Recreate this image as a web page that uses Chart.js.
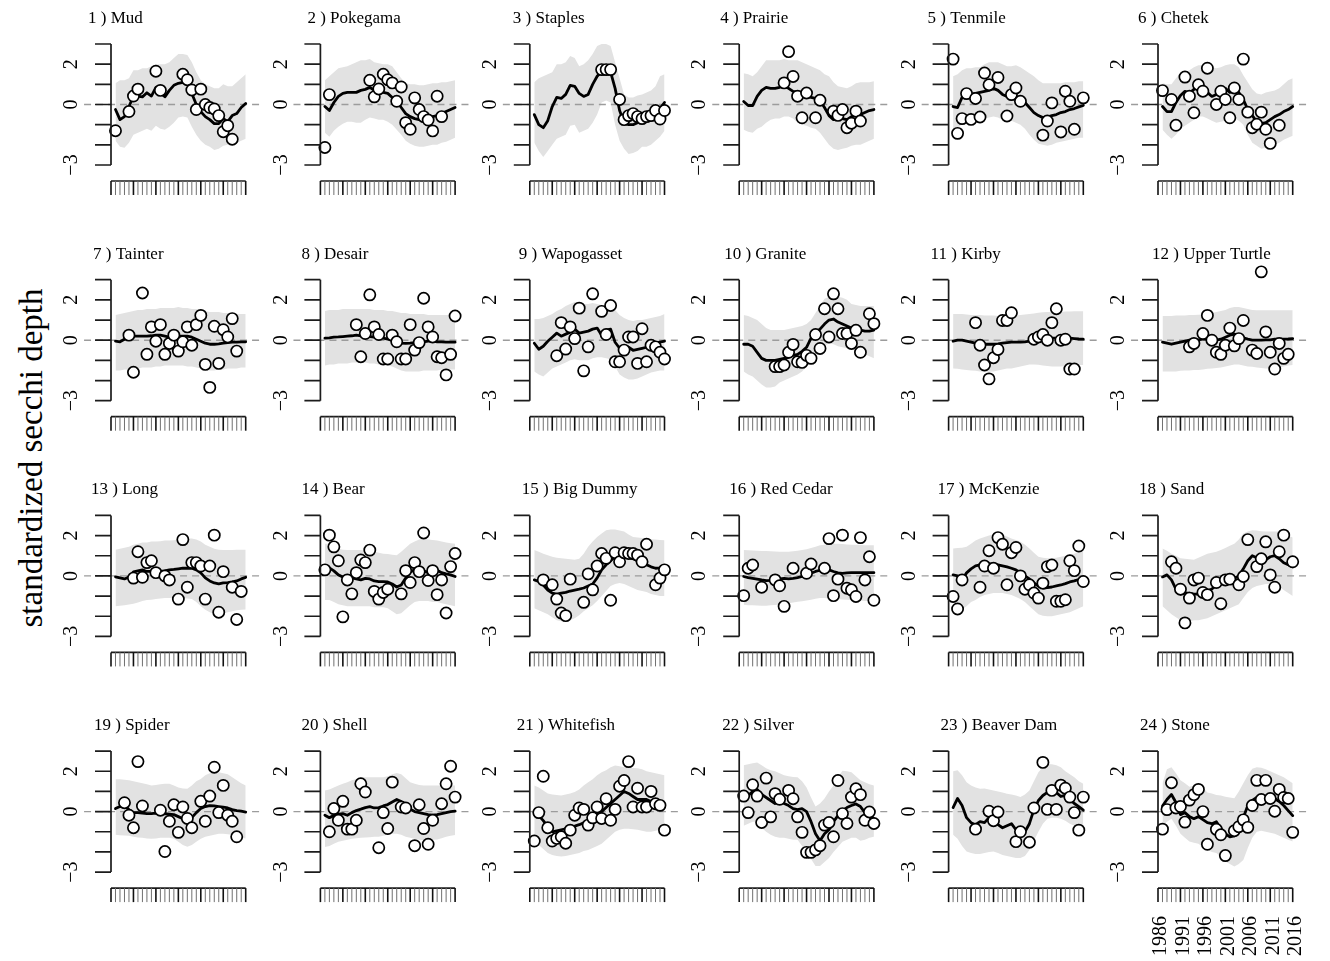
<!DOCTYPE html>
<html><head><meta charset="utf-8">
<script src="https://cdn.jsdelivr.net/npm/chart.js@4/dist/chart.umd.min.js"></script>
<style>
html,body{margin:0;padding:0;background:#fff;}
body{width:1330px;height:961px;overflow:hidden;position:relative;}
canvas{position:absolute;}
#ylab{position:absolute;left:31px;top:458px;transform:translate(-50%,-50%) rotate(-90deg);font:33px "Liberation Serif",serif;white-space:nowrap;color:#000;}
</style></head><body>
<div id="ylab">standardized secchi depth</div>
<script>
// ---------- data ----------
const N = null;
const years = [1987,1988,1989,1990,1991,1992,1993,1994,1995,1996,1997,1998,1999,2000,2001,2002,2003,2004,2005,2006,2007,2008,2009,2010,2011,2012,2013,2014,2015,2016];
const axisYears = [1986,1987,1988,1989,1990,1991,1992,1993,1994,1995,1996,1997,1998,1999,2000,2001,2002,2003,2004,2005,2006,2007,2008,2009,2010,2011,2012,2013,2014,2015,2016];
const xTickLabels = ["1986","1991","1996","2001","2006","2011","2016"];
const yTickValues = [-3,-2,-1,0,1,2,3];
const yTickLabels = ["\u22123","","","0","","2",""];
const lakeNames = ["Mud","Pokegama","Staples","Prairie","Tenmile","Chetek","Tainter","Desair","Wapogasset","Granite","Kirby","Upper Turtle","Long","Bear","Big Dummy","Red Cedar","McKenzie","Sand","Spider","Shell","Whitefish","Silver","Beaver Dam","Stone"];

const obs01=[-1.3,N,N,-0.35,0.42,0.76,N,N,N,1.65,0.7,N,N,N,N,1.5,1.23,0.72,-0.25,0.76,0,-0.15,-0.22,-0.55,-1.35,-1.05,-1.72,N,N,N];
const fit01=[-0.25,-0.75,-0.6,-0.1,0.4,0.42,0.38,0.58,0.42,0.85,0.6,0.38,0.7,0.95,1.05,1.1,1.1,0.55,0.0,-0.35,-0.6,-0.75,-0.95,-0.95,-0.7,-0.85,-0.55,-0.45,-0.15,0.05];
const hi01=[1.05,1.2,1.2,1.3,1.7,1.7,1.8,1.8,1.9,2.0,2.0,2.0,2.1,2.3,2.5,2.5,2.45,2.1,1.6,1.2,1.0,0.9,0.8,0.8,1.0,0.9,0.9,1.1,1.3,1.5];
const lo01=[-1.8,-2.1,-2.15,-1.9,-1.5,-1.4,-1.3,-1.2,-1.3,-1.05,-1.2,-1.25,-1.1,-0.9,-0.65,-0.6,-0.65,-1.1,-1.5,-1.8,-2.0,-2.1,-2.25,-2.2,-2.05,-2.0,-1.95,-1.9,-1.8,-1.7];

const obs02=[-2.13,0.49,N,N,N,N,N,N,N,N,1.2,0.38,0.77,1.5,1.23,1.07,0.16,0.87,-0.9,-1.23,0.33,-0.25,-0.6,-0.77,-1.31,0.41,-0.6,N,N,N];
const fit02=[-0.1,-0.3,0.1,0.4,0.55,0.6,0.6,0.6,0.7,0.75,0.85,0.7,0.6,0.6,0.55,0.35,0.2,-0.15,-0.45,-0.6,-0.7,-0.75,-0.7,-0.75,-0.6,-0.55,-0.45,-0.35,-0.25,-0.15];
const hi02=[1.2,1.4,1.6,1.8,1.85,1.9,2.0,2.1,2.2,2.2,2.25,2.1,2.05,2.0,2.0,1.9,1.6,1.3,1.05,1.0,1.0,0.95,0.95,1.0,1.05,1.05,1.1,1.1,1.15,1.2];
const lo02=[-1.4,-1.6,-1.3,-1.1,-0.95,-0.85,-0.85,-0.9,-0.9,-0.75,-0.65,-0.7,-0.75,-0.75,-0.85,-1.0,-1.25,-1.5,-1.8,-1.95,-2.05,-2.1,-2.1,-2.05,-2.0,-2.0,-1.9,-1.85,-1.75,-1.65];

const obs03=[N,N,N,N,N,N,N,N,N,N,N,N,N,N,N,1.73,1.73,1.73,N,0.25,-0.75,-0.55,-0.45,-0.6,-0.7,-0.6,-0.55,-0.3,-0.72,-0.3];
const fit03=[-0.5,-1.0,-1.15,-0.8,-0.1,0.35,0.3,0.5,0.95,0.9,0.55,0.4,0.5,1.0,1.4,1.65,1.7,1.6,0.8,-0.3,-0.9,-1.0,-1.0,-0.9,-0.75,-0.7,-0.55,-0.4,-0.2,0.1];
const hi03=[1.1,1.3,1.4,1.5,1.6,2.0,2.0,2.1,2.4,2.3,1.9,2.0,2.2,2.5,2.9,3.0,3.0,2.9,2.1,1.3,0.5,0.35,0.35,0.45,0.5,0.6,0.7,0.9,1.4,1.5];
const lo03=[-1.9,-2.3,-2.6,-2.3,-2.0,-1.7,-1.6,-1.5,-1.05,-1.0,-1.4,-1.3,-1.2,-0.9,-0.5,0.1,0.2,0.1,-1.0,-1.8,-2.2,-2.45,-2.4,-2.3,-2.1,-2.1,-2.0,-1.8,-1.6,-1.3];

const obs04=[N,N,N,N,N,N,N,N,N,1.07,2.62,1.39,0.41,-0.66,0.57,N,-0.66,0.21,N,N,-0.33,-0.54,-0.25,-1.15,-0.93,-0.33,-0.82,N,N,N];
const fit04=[0.15,-0.05,-0.05,0.4,0.7,0.85,0.8,0.8,0.85,1.0,0.8,0.65,0.6,0.5,0.4,0.35,0.3,0.2,-0.15,-0.55,-0.75,-0.7,-0.7,-0.75,-0.6,-0.55,-0.5,-0.4,-0.3,-0.25];
const hi04=[1.55,1.5,1.4,1.6,1.9,2.2,2.2,2.2,2.2,2.25,2.2,2.2,2.2,2.1,2.0,1.9,1.8,1.7,1.5,1.4,1.1,0.9,0.85,0.8,0.9,1.05,1.1,1.1,1.1,1.15];
const lo04=[-1.25,-1.35,-1.4,-1.2,-1.1,-0.9,-0.75,-0.7,-0.7,-0.6,-0.6,-0.7,-0.9,-1.0,-1.05,-1.15,-1.2,-1.4,-1.7,-2.0,-2.2,-2.25,-2.2,-2.15,-2.05,-2.0,-2.0,-1.9,-1.8,-1.7];

const obs05=[2.25,-1.43,-0.7,0.54,-0.74,0.3,-0.62,1.56,0.98,N,1.34,N,-0.57,0.49,0.82,0.16,N,N,N,N,-1.52,-0.82,0.08,N,-1.36,0.66,0.16,-1.23,N,0.33];
const fit05=[-0.1,-0.15,0.35,0.45,0.5,0.55,0.6,0.65,0.7,0.8,0.7,0.5,0.4,0.5,0.4,0.25,0.1,-0.15,-0.4,-0.55,-0.65,-0.62,-0.55,-0.5,-0.4,-0.35,-0.25,-0.2,-0.12,-0.05];
const hi05=[1.4,1.5,1.7,1.8,1.8,1.85,1.85,2.0,2.1,2.1,2.1,2.0,1.9,1.9,1.95,1.85,1.7,1.55,1.4,1.2,1.05,1.05,1.05,1.05,1.05,1.1,1.1,1.1,1.15,1.15];
const lo05=[-1.4,-1.2,-0.95,-0.85,-0.8,-0.75,-0.7,-0.7,-0.65,-0.6,-0.65,-0.75,-0.8,-0.8,-0.9,-1.0,-1.2,-1.5,-1.75,-1.95,-2.0,-2.05,-2.0,-1.9,-1.85,-1.8,-1.75,-1.7,-1.65,-1.65];

const obs06=[0.69,N,0.25,-1.03,N,1.36,0.41,-0.41,0.98,0.66,1.8,N,0.0,0.66,0.25,-0.66,0.82,0.25,2.25,-0.38,-1.15,-0.98,-0.38,-1.23,-1.93,N,-1.03,N,N,N];
const fit06=[-0.1,-0.35,-0.35,0.1,0.45,0.65,0.55,0.75,1.0,0.75,0.6,0.4,0.5,0.65,0.8,0.6,0.7,0.6,0.25,-0.25,-0.55,-0.85,-0.95,-0.9,-0.75,-0.6,-0.5,-0.35,-0.25,-0.1];
const hi06=[1.05,1.0,1.0,1.3,1.55,1.6,1.7,1.85,1.95,1.95,1.9,1.85,1.8,1.85,1.95,2.0,2.0,1.85,1.45,1.1,0.75,0.55,0.5,0.6,0.65,0.7,0.8,1.0,1.2,1.3];
const lo06=[-1.25,-1.5,-1.7,-1.5,-1.2,-1.05,-0.9,-0.75,-0.6,-0.6,-0.7,-0.8,-0.9,-0.85,-0.8,-0.75,-0.7,-0.8,-1.0,-1.5,-1.9,-2.05,-2.2,-2.15,-2.1,-2.0,-1.9,-1.75,-1.65,-1.55];

const obs07=[N,N,N,0.25,-1.59,N,2.34,-0.7,0.66,-0.05,0.77,-0.7,-0.16,0.25,-0.54,-0.08,0.66,-0.25,0.77,1.23,-1.2,-2.34,0.69,-1.15,0.52,0.16,1.07,-0.54,N,N];
const fit07=[-0.05,-0.08,0.05,0.15,0.2,0.2,0.2,0.2,0.22,0.25,0.25,0.2,0.15,0.18,0.2,0.2,0.2,0.15,0.05,-0.05,-0.15,-0.2,-0.2,-0.18,-0.15,-0.12,-0.1,-0.1,-0.08,-0.08];
const hi07=[1.25,1.3,1.35,1.4,1.45,1.5,1.5,1.55,1.55,1.55,1.6,1.6,1.6,1.6,1.65,1.6,1.6,1.55,1.55,1.5,1.45,1.4,1.4,1.4,1.35,1.35,1.35,1.3,1.3,1.3];
const lo07=[-1.5,-1.5,-1.45,-1.45,-1.4,-1.4,-1.35,-1.35,-1.35,-1.3,-1.3,-1.25,-1.25,-1.25,-1.25,-1.25,-1.3,-1.3,-1.35,-1.4,-1.45,-1.5,-1.5,-1.45,-1.45,-1.4,-1.4,-1.4,-1.35,-1.35];

const obs08=[N,N,N,N,N,N,N,0.77,-0.82,0.33,2.25,0.66,0.28,-0.93,-0.93,0.25,-0.08,-0.93,-0.93,0.77,-0.49,-0.12,2.08,0.66,0.16,-0.82,-0.87,-1.72,-0.7,1.2];
const fit08=[0.1,0.12,0.15,0.16,0.18,0.2,0.22,0.25,0.22,0.2,0.18,0.15,0.12,0.1,0.05,0.0,-0.1,-0.15,-0.16,-0.15,-0.12,-0.1,-0.08,-0.05,-0.05,-0.08,-0.08,-0.1,-0.1,-0.1];
const hi08=[1.45,1.5,1.5,1.5,1.55,1.55,1.55,1.55,1.55,1.55,1.55,1.5,1.5,1.5,1.45,1.45,1.4,1.35,1.35,1.3,1.3,1.3,1.3,1.25,1.25,1.25,1.25,1.25,1.25,1.25];
const lo08=[-1.25,-1.2,-1.2,-1.15,-1.15,-1.15,-1.1,-1.1,-1.1,-1.1,-1.15,-1.15,-1.2,-1.2,-1.25,-1.3,-1.4,-1.5,-1.55,-1.55,-1.55,-1.55,-1.5,-1.5,-1.5,-1.5,-1.45,-1.45,-1.45,-1.45];

const obs09=[N,N,N,N,N,-0.77,0.87,-0.44,0.66,0.08,1.59,-1.52,-0.33,2.3,N,1.43,0.28,1.72,-1.07,-1.07,-0.49,0.16,0.16,-1.15,0.57,-1.07,-0.25,-0.33,-0.6,-0.93];
const fit09=[-0.15,-0.45,-0.3,-0.05,0.15,0.35,0.2,0.3,0.4,0.55,0.35,0.4,0.45,0.55,0.6,0.25,0.5,0.55,-0.1,-0.4,-0.35,-0.35,-0.5,-0.45,-0.4,-0.35,-0.2,-0.15,-0.1,-0.05];
const hi09=[1.05,1.05,1.1,1.2,1.3,1.45,1.55,1.7,1.8,1.9,1.85,1.8,1.8,1.85,1.8,1.75,1.75,1.7,1.5,1.25,1.1,1.0,0.95,1.0,1.0,1.05,1.1,1.15,1.2,1.3];
const lo09=[-1.55,-1.7,-1.8,-1.6,-1.4,-1.3,-1.2,-1.1,-1.0,-0.95,-1.0,-1.0,-1.0,-0.9,-0.85,-0.85,-0.9,-0.95,-1.3,-1.7,-1.85,-1.95,-1.95,-1.9,-1.8,-1.7,-1.6,-1.55,-1.5,-1.5];

const obs10=[N,N,N,N,N,N,N,-1.31,-1.31,-1.23,-0.6,-0.21,-1.07,-1.1,-0.75,-0.9,0.28,-0.41,1.56,0.16,2.3,1.56,0.33,0.33,-0.16,0.49,-0.6,N,1.31,0.82];
const fit10=[-0.2,-0.2,-0.3,-0.6,-0.9,-1.0,-1.0,-1.0,-0.95,-0.9,-0.85,-0.75,-0.7,-0.55,-0.35,0.1,0.35,0.55,0.8,1.0,1.05,0.9,0.8,0.7,0.6,0.5,0.5,0.45,0.45,0.5];
const hi10=[1.25,1.2,1.1,1.0,0.8,0.6,0.5,0.5,0.5,0.5,0.55,0.6,0.65,0.7,0.8,1.0,1.35,1.7,2.05,2.15,2.2,2.15,2.1,2.0,1.8,1.75,1.7,1.7,1.7,1.7];
const lo10=[-1.55,-1.7,-1.8,-2.0,-2.2,-2.35,-2.35,-2.3,-2.1,-2.0,-1.9,-1.8,-1.7,-1.55,-1.3,-1.0,-0.75,-0.5,-0.3,-0.15,-0.2,-0.3,-0.35,-0.4,-0.45,-0.5,-0.6,-0.7,-0.8,-0.9];

const obs11=[N,N,N,N,N,0.87,-0.25,-1.23,-1.92,-0.87,-0.46,0.98,0.98,1.36,N,N,N,N,0.05,0.16,0.28,0.0,0.87,1.56,0.0,0.05,-1.43,-1.43,N,N];
const fit11=[-0.05,0.0,0.0,-0.05,-0.1,-0.15,-0.18,-0.2,-0.2,-0.2,-0.18,-0.15,-0.12,-0.1,-0.1,-0.1,-0.08,-0.05,0.05,0.1,0.15,0.15,0.12,0.1,0.1,0.1,0.1,0.08,0.06,0.05];
const hi11=[1.3,1.3,1.3,1.28,1.25,1.25,1.25,1.23,1.23,1.22,1.2,1.2,1.2,1.2,1.22,1.25,1.28,1.3,1.33,1.36,1.38,1.4,1.4,1.4,1.4,1.42,1.42,1.43,1.43,1.43];
const lo11=[-1.4,-1.42,-1.45,-1.48,-1.5,-1.52,-1.55,-1.56,-1.56,-1.55,-1.5,-1.45,-1.4,-1.4,-1.35,-1.3,-1.25,-1.2,-1.2,-1.22,-1.25,-1.28,-1.3,-1.3,-1.3,-1.28,-1.25,-1.25,-1.23,-1.23];

const obs12=[N,N,N,N,N,N,-0.33,-0.16,N,0.33,1.23,0.0,-0.6,-0.7,-0.25,0.6,-0.28,0.08,0.98,N,-0.49,-0.66,3.39,0.41,-0.6,-1.43,-0.16,-0.9,-0.7,N];
const fit12=[-0.1,-0.15,-0.2,-0.15,-0.1,-0.05,0.0,0.0,0.02,0.05,0.05,0.02,0.0,0.05,0.15,0.25,0.3,0.25,0.12,0.05,0.0,0.0,0.0,0.02,0.02,0.05,0.05,0.05,0.06,0.08];
const hi12=[1.2,1.2,1.2,1.22,1.22,1.23,1.25,1.25,1.26,1.28,1.3,1.35,1.4,1.45,1.5,1.6,1.65,1.65,1.6,1.55,1.5,1.48,1.48,1.48,1.48,1.48,1.48,1.48,1.48,1.48];
const lo12=[-1.55,-1.55,-1.55,-1.55,-1.52,-1.5,-1.5,-1.48,-1.48,-1.45,-1.42,-1.4,-1.38,-1.35,-1.3,-1.25,-1.2,-1.2,-1.25,-1.3,-1.32,-1.35,-1.38,-1.4,-1.4,-1.38,-1.35,-1.3,-1.25,-1.23];

const obs13=[N,N,N,N,-0.11,1.2,-0.07,0.66,0.75,0.16,N,0.0,-0.2,N,-1.15,1.8,-0.56,0.66,0.66,0.49,-1.15,0.49,2.02,-1.8,0.21,N,-0.56,-2.16,-0.77,N];
const fit13=[-0.05,-0.1,-0.15,-0.05,0.2,0.25,0.3,0.22,0.22,0.25,0.22,0.25,0.3,0.32,0.35,0.38,0.38,0.38,0.3,0.15,-0.1,-0.25,-0.35,-0.4,-0.35,-0.33,-0.3,-0.25,-0.15,-0.07];
const hi13=[1.3,1.35,1.4,1.45,1.55,1.6,1.65,1.65,1.7,1.7,1.72,1.75,1.75,1.77,1.8,1.82,1.85,1.85,1.8,1.7,1.55,1.45,1.35,1.3,1.28,1.28,1.28,1.3,1.3,1.3];
const lo13=[-1.5,-1.48,-1.45,-1.42,-1.38,-1.32,-1.25,-1.2,-1.18,-1.15,-1.12,-1.1,-1.1,-1.1,-1.1,-1.1,-1.12,-1.15,-1.3,-1.5,-1.68,-1.8,-1.9,-1.9,-1.85,-1.8,-1.75,-1.7,-1.68,-1.67];

const obs14=[0.3,2.02,1.44,0.75,-2.03,-0.2,-0.89,0.16,0.79,0.66,1.28,-0.77,-1.15,-0.82,-0.66,N,N,-0.89,0.26,-0.33,0.66,0.21,2.13,-0.23,0.26,-0.93,-0.2,-1.84,0.46,1.11];
const fit14=[0.2,0.4,0.25,0.05,-0.05,-0.15,-0.1,-0.15,-0.2,-0.12,-0.15,-0.25,-0.28,-0.28,-0.3,-0.4,-0.55,-0.45,-0.1,0.2,0.3,0.28,0.25,0.16,0.25,0.28,0.16,0.1,0.05,-0.03];
const hi14=[1.6,1.6,1.5,1.35,1.3,1.28,1.28,1.28,1.28,1.25,1.22,1.2,1.15,1.1,1.08,1.05,1.03,1.2,1.4,1.6,1.7,1.8,1.85,1.8,1.78,1.75,1.7,1.65,1.62,1.6];
const lo14=[-1.2,-1.2,-1.3,-1.4,-1.45,-1.5,-1.5,-1.5,-1.5,-1.5,-1.5,-1.55,-1.55,-1.55,-1.6,-1.75,-1.9,-1.85,-1.65,-1.45,-1.3,-1.25,-1.25,-1.25,-1.3,-1.3,-1.35,-1.4,-1.45,-1.5];

const obs15=[N,N,-0.2,N,-0.44,-1.15,-1.84,-1.97,-0.16,N,N,-1.31,0.1,-0.69,0.49,1.11,0.87,-1.21,1.15,0.7,1.15,1.11,1.11,1.03,0.7,1.57,N,-0.44,-0.11,0.3];
const fit15=[-0.2,-0.28,-0.45,-0.7,-0.85,-0.9,-0.85,-0.82,-0.75,-0.7,-0.66,-0.6,-0.5,-0.4,-0.1,0.3,0.55,0.75,0.95,1.0,1.0,0.9,0.85,0.75,0.65,0.55,0.45,0.38,0.4,0.45];
const hi15=[1.28,1.2,1.1,1.03,0.95,0.9,0.87,0.85,0.82,0.8,0.85,1.1,1.44,1.7,1.93,2.1,2.26,2.3,2.3,2.25,2.2,2.05,1.93,1.9,1.88,1.85,1.82,1.8,1.78,1.77];
const lo15=[-1.6,-1.7,-1.8,-1.9,-2.05,-2.2,-2.25,-2.25,-2.2,-2.1,-1.95,-1.75,-1.6,-1.45,-1.25,-1.0,-0.75,-0.5,-0.4,-0.35,-0.4,-0.5,-0.6,-0.7,-0.75,-0.8,-0.9,-0.95,-1.0,-1.0];

const obs16=[-0.98,0.38,0.54,N,-0.56,N,N,-0.2,-0.49,-1.51,N,0.38,N,N,0.13,0.59,N,N,0.38,1.85,-0.98,-0.16,2.02,-0.61,-0.69,-1.02,1.9,-0.2,0.95,-1.21];
const fit16=[-0.03,-0.08,-0.12,-0.16,-0.2,-0.23,-0.22,-0.2,-0.15,-0.12,-0.15,-0.12,-0.08,-0.03,0.05,0.13,0.22,0.28,0.33,0.3,0.22,0.15,0.13,0.15,0.16,0.16,0.16,0.16,0.16,0.16];
const hi16=[1.28,1.27,1.26,1.25,1.24,1.23,1.22,1.21,1.2,1.2,1.2,1.22,1.25,1.28,1.32,1.38,1.45,1.52,1.55,1.58,1.6,1.6,1.58,1.56,1.55,1.54,1.53,1.52,1.52,1.52];
const lo16=[-1.43,-1.45,-1.46,-1.47,-1.48,-1.48,-1.46,-1.44,-1.42,-1.4,-1.36,-1.32,-1.28,-1.26,-1.22,-1.18,-1.13,-1.1,-1.1,-1.12,-1.14,-1.15,-1.17,-1.18,-1.2,-1.2,-1.22,-1.24,-1.25,-1.26];

const obs17=[-1.02,-1.64,-0.2,N,N,N,-0.56,0.49,1.25,0.38,1.9,1.57,-0.44,1.15,1.41,0.0,-0.66,-0.44,-0.85,-1.1,-0.36,0.46,0.54,-1.26,-1.26,-1.18,0.75,0.26,1.48,-0.28];
const fit17=[0.05,0.0,-0.2,0.15,0.35,0.5,0.55,0.6,0.6,0.58,0.55,0.5,0.45,0.38,0.3,0.16,0.0,-0.15,-0.35,-0.5,-0.6,-0.58,-0.55,-0.5,-0.45,-0.38,-0.3,-0.25,-0.18,-0.1];
const hi17=[1.36,1.38,1.4,1.44,1.6,1.75,1.85,1.93,2.0,2.05,2.1,2.05,1.95,1.85,1.78,1.69,1.55,1.36,1.15,0.95,0.9,0.87,0.87,0.9,0.95,1.0,1.05,1.1,1.2,1.28];
const lo17=[-1.35,-1.5,-1.65,-1.5,-1.3,-1.2,-1.05,-0.95,-0.9,-0.85,-0.85,-0.85,-0.9,-0.95,-1.05,-1.15,-1.3,-1.5,-1.7,-1.9,-1.97,-2.0,-2.0,-1.95,-1.9,-1.85,-1.8,-1.7,-1.6,-1.5];

const obs18=[N,N,0.7,0.38,-0.66,-2.33,-1.1,-0.2,-0.11,-0.82,-0.93,N,-0.33,-1.38,-0.2,-0.16,N,-0.44,-0.03,1.8,N,0.46,0.85,1.69,0.05,-0.56,1.2,2.02,N,0.7];
const fit18=[-0.05,0.05,-0.2,-0.65,-0.9,-0.85,-0.85,-0.9,-0.9,-0.82,-0.75,-0.65,-0.45,-0.38,-0.3,-0.2,-0.12,0.0,0.35,0.75,1.0,0.9,0.78,0.8,0.95,1.0,0.85,0.65,0.55,0.45];
const hi18=[1.36,1.25,1.1,1.0,0.87,0.85,0.82,0.8,0.9,1.0,1.1,1.15,1.2,1.28,1.38,1.5,1.6,1.8,2.1,2.2,2.26,2.25,2.22,2.2,2.2,2.2,2.2,2.1,2.0,1.9];
const lo18=[-1.5,-1.7,-1.9,-2.05,-2.2,-2.25,-2.25,-2.2,-2.2,-2.15,-2.1,-2.0,-1.9,-1.8,-1.7,-1.6,-1.5,-1.4,-1.1,-0.8,-0.6,-0.5,-0.45,-0.4,-0.4,-0.45,-0.55,-0.7,-0.85,-1.0];

const obs19=[N,N,0.44,-0.18,-0.8,2.48,0.28,N,N,N,0.07,-1.98,-0.48,0.34,-1.03,0.23,-0.34,-0.8,N,0.51,-0.48,0.77,2.2,-0.05,1.3,-0.18,-0.48,-1.25,N,N];
const fit19=[0.15,0.25,0.3,0.1,-0.05,-0.05,-0.08,-0.1,-0.1,-0.08,-0.12,-0.1,-0.12,-0.15,-0.25,-0.35,-0.43,-0.3,-0.05,0.15,0.25,0.3,0.28,0.25,0.22,0.18,0.1,0.05,0.02,-0.02];
const hi19=[1.6,1.6,1.58,1.55,1.5,1.45,1.4,1.35,1.3,1.32,1.35,1.38,1.38,1.3,1.2,1.15,1.13,1.3,1.5,1.62,1.8,1.9,1.95,1.95,1.9,1.85,1.7,1.55,1.4,1.3];
const lo19=[-1.15,-1.17,-1.18,-1.2,-1.25,-1.28,-1.3,-1.33,-1.35,-1.33,-1.3,-1.3,-1.3,-1.35,-1.5,-1.65,-1.74,-1.65,-1.5,-1.35,-1.25,-1.2,-1.15,-1.1,-1.1,-1.12,-1.15,-1.2,-1.28,-1.33];

const obs20=[N,-1.0,0.15,-0.43,0.51,-0.87,-0.87,-0.43,1.38,0.97,N,N,-1.79,-0.05,-0.84,1.46,N,0.23,0.18,N,-1.69,0.34,-0.84,-1.62,-0.43,N,0.39,1.38,2.25,0.72];
const fit20=[-0.18,-0.3,-0.2,-0.12,-0.1,-0.18,-0.05,0.05,0.12,0.2,0.25,0.18,0.2,0.28,0.35,0.48,0.6,0.5,0.3,0.12,0.0,-0.05,-0.1,-0.15,-0.18,-0.15,-0.1,-0.05,0.0,0.02];
const hi20=[1.05,1.1,1.2,1.3,1.38,1.45,1.55,1.62,1.7,1.7,1.7,1.7,1.7,1.7,1.75,1.85,1.92,1.85,1.65,1.46,1.38,1.32,1.3,1.3,1.3,1.3,1.3,1.3,1.3,1.3];
const lo20=[-1.75,-1.7,-1.6,-1.5,-1.45,-1.4,-1.35,-1.32,-1.3,-1.28,-1.27,-1.25,-1.25,-1.2,-1.15,-1.1,-1.1,-1.15,-1.25,-1.3,-1.35,-1.4,-1.42,-1.42,-1.4,-1.38,-1.32,-1.25,-1.2,-1.16];

const obs21=[-1.46,-0.05,1.75,-0.8,-1.46,-1.33,-1.25,-1.57,-0.92,-0.18,0.18,0.11,-0.67,-0.31,0.23,-0.34,0.64,-0.43,0.11,1.26,1.54,2.48,0.23,1.16,0.23,0.23,1.0,0.39,0.31,-0.92];
const fit21=[-0.05,-0.2,-0.45,-0.75,-1.0,-0.95,-0.9,-0.85,-0.78,-0.72,-0.65,-0.55,-0.45,-0.3,-0.15,0.0,0.2,0.4,0.6,0.8,1.0,0.9,0.75,0.6,0.6,0.6,0.5,0.4,0.35,0.3];
const hi21=[1.3,1.2,1.05,0.9,0.85,0.82,0.8,0.85,0.9,0.97,1.1,1.3,1.46,1.6,1.8,1.95,2.05,2.2,2.28,2.25,2.2,2.18,2.16,2.15,2.1,2.0,1.95,1.9,1.85,1.8];
const lo21=[-1.45,-1.65,-1.85,-2.05,-2.15,-2.2,-2.23,-2.2,-2.15,-2.1,-2.05,-1.95,-1.9,-1.8,-1.7,-1.6,-1.4,-1.2,-1.0,-0.9,-0.85,-0.85,-0.88,-0.9,-0.95,-1.0,-1.0,-0.95,-0.9,-0.85];

const obs22=[0.77,-0.05,1.33,0.77,-0.54,1.66,-0.26,0.89,0.61,N,1.05,0.64,-0.26,-1.03,-2.02,-2.02,-1.9,-1.69,-0.67,-0.54,-1.25,1.54,-0.1,-0.59,0.72,1.13,0.84,-0.43,-0.02,-0.59];
const fit22=[0.6,0.8,1.0,1.1,0.85,0.7,0.55,0.4,0.5,0.4,0.3,0.15,0.1,0.15,0.0,-0.5,-1.1,-1.45,-1.1,-0.9,-0.5,-0.2,0.05,0.2,0.3,0.38,0.25,-0.05,-0.25,-0.35];
const hi22=[2.3,2.35,2.4,2.44,2.3,2.15,2.05,2.0,1.9,1.8,1.75,1.72,1.7,1.5,1.2,0.7,0.25,0.4,0.65,1.0,1.3,1.7,2.03,2.0,1.95,1.75,1.55,1.45,1.35,1.3];
const lo22=[-0.7,-0.6,-0.5,-0.5,-0.8,-1.0,-1.15,-1.25,-1.3,-1.3,-1.35,-1.4,-1.4,-1.7,-2.0,-2.35,-2.7,-2.7,-2.5,-2.3,-2.0,-1.75,-1.5,-1.4,-1.3,-1.3,-1.45,-1.4,-1.3,-1.25];

const obs23=[N,N,N,N,N,-0.87,N,N,0.02,-0.45,-0.02,N,N,N,-1.49,-1.0,N,-1.52,0.18,N,2.44,0.11,1.05,0.11,1.31,1.16,0.72,-0.05,-0.92,0.72];
const fit23=[0.2,0.65,0.3,-0.3,-0.55,-0.65,-0.5,-0.55,-0.3,-0.5,-0.65,-0.8,-0.7,-0.6,-0.9,-1.0,-1.0,-0.6,0.1,0.55,0.8,0.95,1.05,0.95,0.75,0.8,0.6,0.4,0.25,0.07];
const hi23=[2.0,2.05,1.8,1.45,1.3,1.2,1.13,1.15,1.1,1.05,1.0,0.95,0.89,0.85,0.8,0.72,0.85,1.05,1.5,1.95,2.2,2.36,2.35,2.3,2.2,2.0,1.85,1.7,1.5,1.38];
const lo23=[-1.15,-1.35,-1.7,-1.98,-2.05,-2.1,-2.1,-2.05,-2.0,-1.98,-2.05,-2.15,-2.2,-2.25,-2.3,-2.3,-2.2,-1.9,-1.45,-1.0,-0.6,-0.35,-0.3,-0.3,-0.35,-0.45,-0.6,-0.7,-0.8,-0.85];

const obs24=[-0.87,0.1,1.43,0.18,0.25,-0.52,0.57,0.84,1.1,0.0,-1.62,N,-0.88,-1.15,-2.18,N,-0.95,-0.75,-0.41,-0.78,0.3,1.55,0.6,1.55,0.65,0.02,1.1,0.7,0.65,-1.03];
const fit24=[0.28,0.6,0.85,0.45,-0.15,-0.05,-0.25,-0.35,-0.25,-0.4,-0.55,-0.6,-0.5,-0.85,-1.1,-1.25,-1.2,-0.85,-0.3,0.3,0.55,0.7,0.75,0.7,0.72,0.65,0.5,0.3,0.05,-0.2];
const hi24=[1.4,2.1,2.2,1.9,1.56,1.4,1.23,1.3,1.39,1.2,0.95,0.9,0.82,0.8,0.74,0.7,0.66,1.0,1.4,1.8,2.13,2.2,2.18,2.1,2.0,1.9,1.8,1.7,1.55,1.4];
const lo24=[-0.7,-0.5,-0.35,-0.7,-1.1,-1.3,-1.48,-1.55,-1.6,-1.75,-1.9,-2.0,-2.05,-2.25,-2.48,-2.6,-2.72,-2.6,-2.4,-1.8,-1.3,-1.0,-0.95,-1.0,-1.05,-1.1,-1.2,-1.3,-1.4,-1.48];

const obsList=[obs01,obs02,obs03,obs04,obs05,obs06,obs07,obs08,obs09,obs10,obs11,obs12,obs13,obs14,obs15,obs16,obs17,obs18,obs19,obs20,obs21,obs22,obs23,obs24];
const fitList=[fit01,fit02,fit03,fit04,fit05,fit06,fit07,fit08,fit09,fit10,fit11,fit12,fit13,fit14,fit15,fit16,fit17,fit18,fit19,fit20,fit21,fit22,fit23,fit24];
const hiList=[hi01,hi02,hi03,hi04,hi05,hi06,hi07,hi08,hi09,hi10,hi11,hi12,hi13,hi14,hi15,hi16,hi17,hi18,hi19,hi20,hi21,hi22,hi23,hi24];
const loList=[lo01,lo02,lo03,lo04,lo05,lo06,lo07,lo08,lo09,lo10,lo11,lo12,lo13,lo14,lo15,lo16,lo17,lo18,lo19,lo20,lo21,lo22,lo23,lo24];

// ---------- layout ----------
const colAxisX=[111,320.4,529.8,739.2,948.6,1158];
const rowTops=[0,235.7,471.4,707.1];
const titleDx=[-23,-13,-17,-19,-21,-20,-18,-19,-11,-15,-18,-6,-20,-19,-8,-10,-11,-19,-17,-19,-13,-17,-8,-18];
const PXY=4.49;            // px per year
const XMIN=1980, XMAX=2020, YMIN=-3.6, YMAX=3.6;
const BAND='#e2e2e2';
const SERIF='"Liberation Serif", "Times New Roman", serif';

const rStyle={
  id:'rStyle',
  beforeDatasetDraw(chart,args){
    if(args.index!==2) return;
    const {ctx,chartArea:a,scales:{y}}=chart;
    const y0=y.getPixelForValue(0);
    ctx.save();
    ctx.strokeStyle='#9c9c9c';ctx.lineWidth=1.4;ctx.setLineDash([7,5]);
    ctx.beginPath();ctx.moveTo(a.left,y0);ctx.lineTo(a.right,y0);ctx.stroke();
    ctx.restore();
  },
  afterDraw(chart,args,o){
    const {ctx,scales:{x,y}}=chart;
    const ax=x.getPixelForValue(axisYears[0]);
    const ax2=x.getPixelForValue(axisYears[axisYears.length-1]);
    const yTop=y.getPixelForValue(yTickValues[yTickValues.length-1]);
    const yBot=y.getPixelForValue(yTickValues[0]);
    ctx.save();
    ctx.strokeStyle='#1c1c1c';ctx.lineWidth=1.7;
    ctx.beginPath();
    ctx.moveTo(ax,yTop);ctx.lineTo(ax,yBot);
    yTickValues.forEach(v=>{const py=y.getPixelForValue(v);ctx.moveTo(ax,py);ctx.lineTo(ax-16,py);});
    ctx.stroke();
    ctx.fillStyle='#000';ctx.font='20px '+SERIF;ctx.textAlign='center';ctx.textBaseline='middle';
    yTickValues.forEach((v,i)=>{
      const t=yTickLabels[i]; if(!t) return;
      ctx.save();ctx.translate(ax-39,y.getPixelForValue(v));ctx.rotate(-Math.PI/2);ctx.fillText(t,0,0);ctx.restore();
    });
    const xa=yBot+16;
    ctx.beginPath();ctx.moveTo(ax,xa);ctx.lineTo(ax2,xa);ctx.lineWidth=1.7;ctx.strokeStyle='#1c1c1c';ctx.stroke();
    axisYears.forEach(yr=>{
      const px=x.getPixelForValue(yr);
      const major=xTickLabels.indexOf(String(yr))>=0;
      ctx.beginPath();ctx.lineWidth=major?1.6:1;ctx.strokeStyle=major?'#111':'#707070';
      ctx.moveTo(px,xa);ctx.lineTo(px,xa+14);ctx.stroke();
    });
    if(o.xLabels){
      ctx.font='20px '+SERIF;ctx.textAlign='right';ctx.textBaseline='middle';ctx.fillStyle='#000';
      xTickLabels.forEach(t=>{
        const px=x.getPixelForValue(Number(t));
        ctx.save();ctx.translate(px+3,xa+28);ctx.rotate(-Math.PI/2);ctx.fillText(t,0,0);ctx.restore();
      });
    }
    ctx.font='17px '+SERIF;ctx.textAlign='left';ctx.textBaseline='alphabetic';ctx.fillStyle='#000';
    ctx.fillText(o.title,ax+o.titleDx,yTop-21);
    ctx.restore();
  }
};

function pts(arr){const out=[];arr.forEach((v,i)=>{if(v!==null) out.push({x:years[i],y:v});});return out;}

const W=330,H=262;
for(let k=0;k<24;k++){
  const r=Math.floor(k/6), c=k%6;
  const X0=colAxisX[c], T=rowTops[r];
  const CL=Math.floor(X0-90), CT=Math.floor(T);
  const cv=document.createElement('canvas');
  cv.width=W;cv.height=H;cv.style.left=CL+'px';cv.style.top=CT+'px';cv.style.width=W+'px';cv.style.height=H+'px';
  document.body.appendChild(cv);
  const left=X0-(1986-XMIN)*PXY-CL;
  const areaW=(XMAX-XMIN)*PXY;
  const top=T+44-(YMAX-3)*20.17-CT;
  const bottom=H-(T+165+(-3-YMIN)*20.17-CT);
  new Chart(cv,{
    type:'line',
    data:{datasets:[
      {data:pts(hiList[k]),fill:'+1',backgroundColor:BAND,borderWidth:0,borderColor:'rgba(0,0,0,0)',pointRadius:0,order:2},
      {data:pts(loList[k]),fill:false,borderWidth:0,borderColor:'rgba(0,0,0,0)',pointRadius:0,order:2},
      {data:pts(fitList[k]),fill:false,borderColor:'#000',borderWidth:2.8,pointRadius:0,borderJoinStyle:'round',borderCapStyle:'round',order:1,clip:false},
      {data:pts(obsList[k]),showLine:false,pointRadius:5.6,pointBorderWidth:1.7,pointBackgroundColor:'#fff',pointBorderColor:'#000',order:0,clip:false}
    ]},
    options:{
      animation:false,responsive:false,maintainAspectRatio:false,events:[],
      layout:{padding:{left:left,right:W-left-areaW,top:top,bottom:bottom}},
      elements:{line:{tension:0}},
      plugins:{legend:{display:false},tooltip:{enabled:false},
        rStyle:{title:(k+1)+' ) '+lakeNames[k],titleDx:titleDx[k],xLabels:k===23}},
      scales:{
        x:{type:'linear',min:XMIN,max:XMAX,display:false},
        y:{type:'linear',min:YMIN,max:YMAX,display:false}
      }
    },
    plugins:[rStyle]
  });
}
</script>
</body></html>
